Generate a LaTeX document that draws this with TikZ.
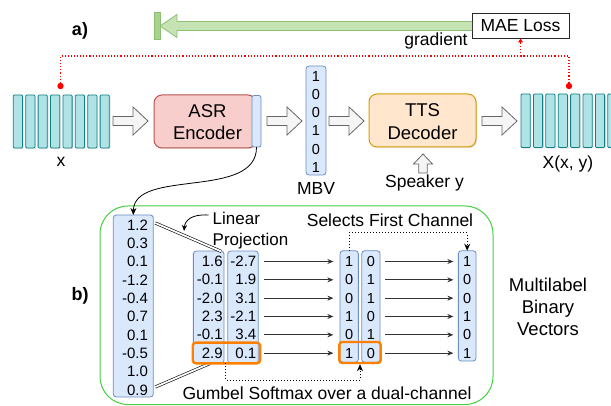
\documentclass[tikz,border=0pt]{standalone}
\usepackage{fontspec}
\setmainfont{Liberation Sans}
\usetikzlibrary{arrows.meta,shadows,calc}
\definecolor{barfill}{HTML}{B0E3E6}
\definecolor{barline}{HTML}{0E8088}
\definecolor{asrfill}{HTML}{F8CECC}
\definecolor{asrline}{HTML}{B85450}
\definecolor{ttsfill}{HTML}{FFE6CC}
\definecolor{ttsline}{HTML}{D79B00}
\definecolor{colfill}{HTML}{DAE8FC}
\definecolor{colline}{HTML}{6C8EBF}
\definecolor{harrowfill}{HTML}{F5F5F5}
\definecolor{harrowline}{HTML}{666666}
\definecolor{gfill}{HTML}{C6E3B4}
\definecolor{gline}{HTML}{8DBF72}
\definecolor{gbar}{HTML}{A8D38D}
\definecolor{contline}{HTML}{44D040}
\definecolor{hl}{HTML}{FF8000}
\definecolor{redc}{HTML}{FF0000}
\begin{document}
\begin{tikzpicture}[x=1pt,y=-1pt,
  every node/.style={inner sep=0pt, outer sep=0pt},
  lbl/.style={font=\fontsize{17.5}{21}\selectfont},
  boxlbl/.style={font=\fontsize{18.5}{22.5}\selectfont, align=center},
  num/.style={font=\fontsize{15}{17}\selectfont},
  bnum/.style={font=\fontsize{14.5}{17}\selectfont},
  sh/.style={drop shadow={shadow xshift=1.2pt, shadow yshift=-1.2pt, opacity=0.22}},
  specbar/.style={fill=barfill, draw=barline, line width=0.8pt, rounded corners=1pt, sh},
  harrowshape/.style={fill=harrowfill, draw=harrowline, line width=0.8pt},
  colbox/.style={fill=colfill, draw=colline, line width=0.8pt, rounded corners=3pt},
  hlbox/.style={draw=hl, line width=2.4pt, rounded corners=3pt},
  reddot/.style={draw=redc, dotted, line width=1.1pt},
  rowarrow/.style={draw=black!80, line width=0.8pt, -{Stealth[length=6pt,width=5pt]}},
  dotarrow/.style={draw=black, dotted, line width=1pt, -{Stealth[length=7pt,width=6pt]}},
  dbl/.style={draw=black, double=white, double distance=1.8pt, line width=0.6pt},
  harrow/.pic={\draw[harrowshape] (0,-4.5) -- (20,-4.5) -- (20,-14) -- (35,0) -- (20,14) -- (20,4.5) -- (0,4.5) -- cycle;}
]
\path[use as bounding box] (0,0) rectangle (611,406);

% ---------- a) ----------
\node[font=\fontsize{18}{22}\selectfont\bfseries] (lbla) at (80,31) {a)};

\node[draw=black!85, fill=white, line width=0.9pt, minimum width=97pt, minimum height=25pt, lbl] (mae) at (520.5,26) {MAE Loss};
\draw[fill=gfill, draw=gline, line width=0.8pt] (mae.west |- 0,21.5) -- (177,21.5) -- (177,14.5) -- (160,26) -- (177,37.5) -- (177,30.5) -- (mae.west |- 0,30.5);
\node[fill=gbar, draw=gline, line width=0.8pt, minimum width=6pt, minimum height=27pt] (gbarn) at (157,26) {};
\node[lbl] (grad) at (436,41) {gradient};

% red dotted loss connections
\coordinate (dotL) at (60.5,86);
\coordinate (dotR) at (569,86);
\coordinate (junc) at (mae.south |- 0,56);
\draw[reddot] (dotL) |- (junc) -| (dotR);
\draw[reddot, -{Triangle[length=4pt,width=5pt]}] (junc) -- (mae.south);

% spectrograms
\foreach \i in {0,...,7} \draw[specbar] ({13.3+12.4*\i},95) rectangle ++(9.2,53);
\foreach \i in {0,...,7} \draw[specbar] ({521+12.4*\i},94) rectangle ++(9.2,53.5);
\fill[redc] (dotL) circle (3.2pt);
\fill[redc] (dotR) circle (3.2pt);
\node[lbl] (xlbl) at (61,162) {x};
\node[lbl] (Xlbl) at (568,164) {X(x, y)};

% ASR encoder
\node[fill=asrfill, draw=asrline, line width=1pt, rounded corners=8pt, minimum width=102pt, minimum height=53pt, sh] (asr) at (205,121.5) {};
\node[boxlbl] (asrt) at (207.5,122) {ASR\\Encoder};
\node[colbox, rounded corners=2pt, minimum width=9pt, minimum height=51.5pt] (strip) at (256.5,121.25) {};

% MBV
\node[colbox, minimum width=20pt, minimum height=109pt] (mbv) at (316,120.5) {};
\foreach \d [count=\k from 0] in {1,0,0,1,0,1}
  \node[bnum] (mbv\k) at (316,{76.7+18.1*\k}) {\d};
\node[lbl] (mbvl) at (316,188) {MBV};

% TTS decoder
\node[fill=ttsfill, draw=ttsline, line width=1pt, rounded corners=8pt, minimum width=107pt, minimum height=53pt, sh] (tts) at (422.5,120.5) {};
\node[boxlbl] (ttst) at (422.5,121.5) {TTS\\Decoder};

% hollow block arrows
\pic at (113,121) {harrow};
\pic at (267,121) {harrow};
\pic at (329,121) {harrow};
\pic at (482,121) {harrow};
\draw[harrowshape] (423,154) -- (432.5,164) -- (427.3,164) -- (427.3,173) -- (418.7,173) -- (418.7,164) -- (413.5,164) -- cycle;
\node[lbl] (spk) at (424.5,183) {Speaker y};

% ---------- b) ----------
\node[draw=contline, line width=1pt, rounded corners=28pt, minimum width=393pt, minimum height=198.5pt] (cont) at (296.5,305.25) {};
\node[font=\fontsize{18}{22}\selectfont\bfseries] (lblb) at (80,296) {b)};

% big column
\node[colbox, minimum width=40pt, minimum height=182pt] (bigcol) at (133.3,306) {};
\foreach \v [count=\k from 0] in {1.2,0.3,0.1,-1.2,-0.4,0.7,0.1,-0.5,1.0,0.9}
  \node[num, anchor=east] (bc\k) at (148,{225+18.33*\k}) {\v};
\draw[line width=0.8pt, -{Stealth[length=7pt,width=6pt]}] (strip.south) .. controls (257,200) and (134,168) .. (bigcol.north);

% linear projection label
\node[lbl, align=left, anchor=north west, font=\fontsize{17}{20.5}\selectfont] (linp) at (212.7,212.5) {Linear\\Projection};
\coordinate (lpstart) at (208.5,215);
\coordinate (lpend) at (184,231);
\draw[line width=0.8pt, -{Stealth[length=6pt,width=5pt]}] (lpstart) .. controls (192,214) and (185,220) .. (lpend);

% projection columns
\node[colbox, minimum width=30.7pt, minimum height=112.3pt] (p1) at (208.7,307.2) {};
\node[colbox, minimum width=30.6pt, minimum height=112.3pt] (p2) at (243,307.2) {};
\draw[dbl] ($(bigcol.north east)+(2,8)$) -- ($(p1.north east)+(-2.5,0.5)$);
\draw[dbl] ($(bigcol.south east)+(2,-10)$) -- ($(p1.south)+(1.5,0)$);

% binary columns
\node[colbox, minimum width=18.3pt, minimum height=111.6pt] (b1) at (349.2,306.5) {};
\node[colbox, minimum width=18.3pt, minimum height=111.6pt] (b2) at (370.9,306.5) {};
\node[colbox, minimum width=17.7pt, minimum height=110.3pt] (o) at (467.2,305.9) {};

\foreach \a/\b [count=\k from 0] in {1.6/-2.7,-0.1/1.9,-2.0/3.1,2.3/-2.1,-0.1/3.4,2.9/0.1}{
  \node[num, anchor=east] (p1r\k) at (222.7,{261.5+18.33*\k}) {\a};
  \node[num, anchor=east] (p2r\k) at (256.3,{261.5+18.33*\k}) {\b};
}
\foreach \a/\b/\c [count=\k from 0] in {1/0/1,0/1/0,0/1/0,1/0/1,0/1/0,1/0/1}{
  \node[bnum] (b1r\k) at (349.2,{261.5+18.33*\k}) {\a};
  \node[bnum] (b2r\k) at (370.9,{261.5+18.33*\k}) {\b};
  \node[bnum] (or\k) at (467.2,{261.5+18.33*\k}) {\c};
  \draw[rowarrow, shorten <=5.7pt, shorten >=6.7pt] (p2.east |- b1r\k) -- (b1.west |- b1r\k);
  \draw[rowarrow, shorten <=5pt, shorten >=5pt] (b2.east |- b2r\k) -- (o.west |- or\k);
}

% highlight boxes
\node[hlbox, minimum width=67.3pt, minimum height=20.6pt] (hlA) at (226.4,353) {};
\node[hlbox, minimum width=41.4pt, minimum height=21pt] (hlB) at (360,352.5) {};

% selects first channel
\node[lbl] (sel) at (390,220.7) {Selects First Channel};
\draw[dotarrow] (b1.north) -- ++(0,-18) -| (o.north);

% gumbel softmax
\draw[dotarrow] ($(p1.south east)!0.5!(p2.south west)$) -- ++(0,17) -| ($(hlB.south)+(0,1.2)$);
\node[lbl] (gum) at (327,393.3) {Gumbel Softmax over a dual-channel};

% multilabel label
\node[align=center, font=\fontsize{18.5}{22}\selectfont] (mlb) at (548,307) {Multilabel\\Binary\\Vectors};
\end{tikzpicture}
\end{document}
